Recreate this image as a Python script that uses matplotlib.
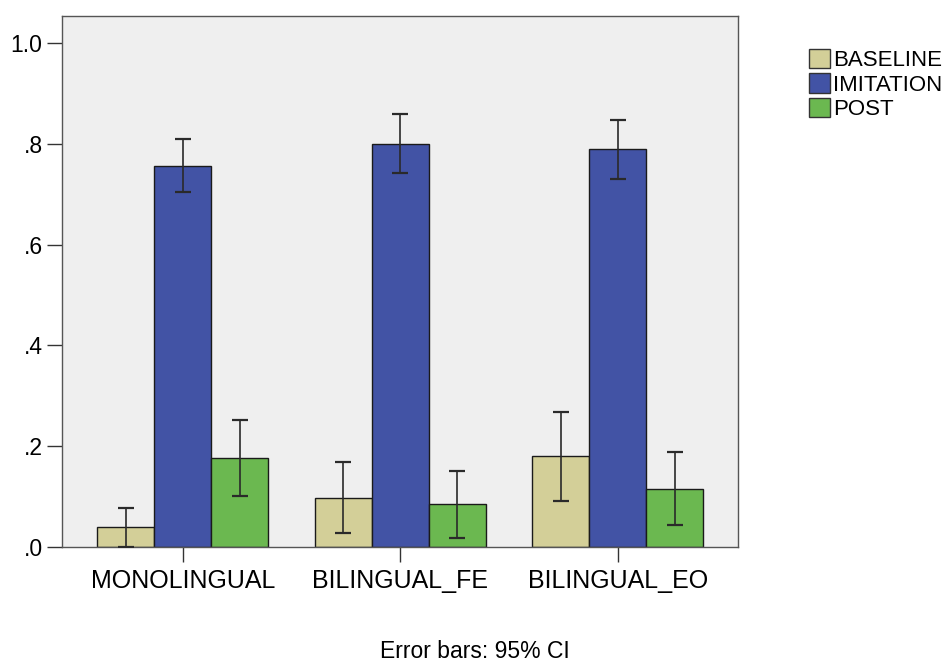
import matplotlib
matplotlib.use("Agg")
import matplotlib.pyplot as plt
from matplotlib.patches import Patch
import numpy as np

plt.rcParams['font.family'] = ['Liberation Sans', 'DejaVu Sans']

categories = ["MONOLINGUAL", "BILINGUAL_FE", "BILINGUAL_EO"]
series = ["BASELINE", "IMITATION", "POST"]
baseline = [0.040, 0.098, 0.181]
imitation = [0.757, 0.800, 0.790]
post = [0.177, 0.085, 0.116]
baseline_lo = [0.000, 0.028, 0.092]
baseline_hi = [0.078, 0.168, 0.268]
imitation_lo = [0.705, 0.742, 0.731]
imitation_hi = [0.810, 0.859, 0.847]
post_lo = [0.102, 0.018, 0.043]
post_hi = [0.252, 0.151, 0.188]
yticks = [0.0, 0.2, 0.4, 0.6, 0.8, 1.0]
ytick_labels = [".0", ".2", ".4", ".6", ".8", "1.0"]
colors = ["#D3CF98", "#4253A5", "#6BB850"]

fig = plt.figure(figsize=(9.5, 6.62), dpi=100)
ax = fig.add_axes([62/950, 1-547/662, (738-62)/950, (547-16)/662])
ax.set_facecolor("#EFEFEF")

x = np.arange(len(categories))
w = 0.262
vals = [baseline, imitation, post]
los = [baseline_lo, imitation_lo, post_lo]
his = [baseline_hi, imitation_hi, post_hi]
for i, (v, lo, hi) in enumerate(zip(vals, los, his)):
    pos = x + (i - 1) * w
    ax.bar(pos, v, width=w, color=colors[i], edgecolor="#1a1a1a", linewidth=1.0, zorder=2)
    v = np.array(v); lo = np.array(lo); hi = np.array(hi)
    ax.errorbar(pos, v, yerr=[v - lo, hi - v], fmt="none", ecolor="#2a2a2a",
                elinewidth=1.2, capsize=5.5, capthick=1.6, zorder=3)

ax.set_xlim(-0.556, 2.552)
ax.set_ylim(0, 1.054)
ax.set_yticks(yticks)
ax.set_yticklabels(ytick_labels)
ax.set_xticks(x)
ax.set_xticklabels(categories)
ax.tick_params(axis="both", direction="out", length=11, width=1.0, color="#333333", pad=3)
ax.tick_params(axis="y", labelsize=16.5)
ax.tick_params(axis="x", labelsize=18, pad=5)
for s in ax.spines.values():
    s.set_color("#555555")
    s.set_linewidth(1.0)

handles = [Patch(facecolor=c, edgecolor="#333333", linewidth=1.0) for c in colors]
fig.legend(handles, series, loc="upper left", bbox_to_anchor=(809/950, 1-49/662),
           frameon=False, fontsize=16, handlelength=0.95, handleheight=0.95,
           handletextpad=0.12, labelspacing=0.1, borderpad=0, borderaxespad=0)

fig.text(0.5, 1-652/662, "Error bars: 95% CI", ha="center", va="center", fontsize=16.5)

fig.savefig("out.png", dpi=100)
